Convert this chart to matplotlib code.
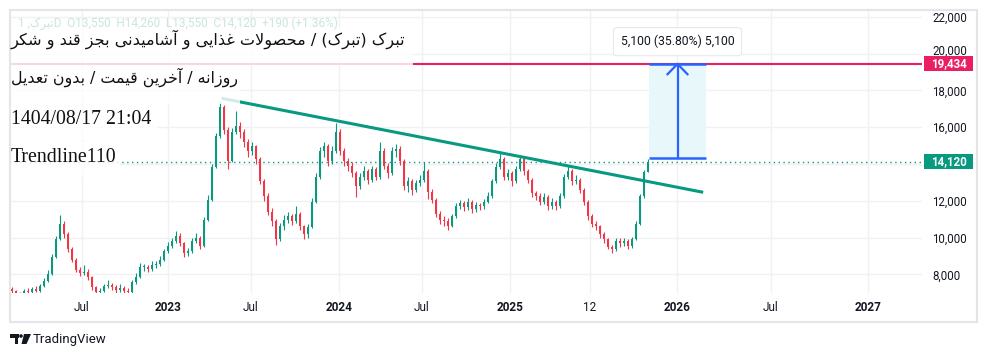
import numpy as np
import matplotlib
matplotlib.use('Agg')
import matplotlib.pyplot as plt
import matplotlib.transforms as mtransforms
from matplotlib.patches import Rectangle, Polygon, Circle

# ---------------- data ----------------
open0 = 7200
closes = [7080, 7000, 6950, 7100, 7050, 7200, 7100, 7350, 7650, 8000,
          8950, 9900, 10750, 10200, 9350, 8800, 8250, 8050, 8150, 7850,
          7300, 7050, 7100, 7350, 7400, 7300, 7150, 7250, 7100, 7050,
          7600, 7850, 8400, 8400, 8300, 8500, 8550, 8800, 9250, 9550,
          9800, 10100, 9700, 9150, 9250, 9800, 10000, 9550, 10950, 12050,
          13850, 15500, 17100, 15850, 14150, 15750, 16050, 15750, 15200, 14700,
          14950, 14250, 13050, 12250, 11400, 10900, 9900, 10600, 10950, 11150,
          10900, 11300, 10600, 10200, 10550, 11950, 13300, 14700, 14950, 14150,
          14700, 15750, 14700, 14150, 13900, 13500, 12800, 13300, 13600, 13150,
          13700, 13300, 14700, 13900, 13500, 14700, 14800, 14150, 12800, 13050,
          12600, 12950, 13150, 13600, 12500, 12050, 11300, 10950, 10900, 10650,
          11150, 11700, 11850, 11650, 11950, 11550, 11750, 11700, 11950, 12250,
          13050, 13850, 14250, 13300, 13500, 13050, 13700, 14250, 13600, 13150,
          12400, 12250, 11950, 12200, 11700, 11950, 11700, 12250, 13300, 13600,
          13050, 13150, 12600, 11950, 11150, 10750, 10600, 10200, 9900, 9500,
          9350, 9800, 9700, 9800, 9550, 9900, 10750, 12250, 13550, 14120]
highs = [7300, 7150, 7050, 7200, 7250, 7300, 7350, 7450, 7800, 8250,
         9100, 10100, 11250, 10900, 10300, 9500, 8900, 8400, 8500, 8300,
         7900, 7350, 7250, 7500, 7700, 7550, 7400, 7450, 7350, 7250,
         7700, 8050, 8600, 8550, 8500, 8700, 8750, 9000, 9400, 9750,
         10000, 10350, 10250, 9750, 9450, 9950, 10250, 10100, 11100, 12300,
         14000, 15700, 17400, 17200, 16000, 15950, 16900, 16300, 15900, 15350,
         15200, 15050, 14350, 13200, 12400, 11600, 11000, 10800, 11200, 11400,
         11300, 11700, 11400, 10700, 10750, 12150, 13500, 14900, 15200, 15100,
         14950, 16250, 15900, 14850, 14300, 14100, 13600, 13500, 13900, 13750,
         13900, 13850, 15200, 14850, 14050, 14900, 15100, 14950, 14250, 13300,
         13200, 13150, 13400, 14100, 13700, 12650, 12150, 11450, 11150, 11050,
         11300, 11900, 12050, 12000, 12150, 12050, 11950, 11900, 12100, 12450,
         13200, 14050, 14650, 14350, 13750, 13600, 13900, 14500, 14350, 13750,
         13250, 12550, 12400, 12400, 12300, 12150, 12050, 12400, 13450, 13950,
         13700, 13400, 13250, 12700, 12050, 11300, 10900, 10700, 10300, 10000,
         9600, 9950, 9950, 10000, 9900, 10050, 10900, 12350, 13650, 14260]
lows = [6980, 6900, 6850, 6900, 6950, 7000, 7050, 7050, 7300, 7600,
        7950, 8900, 9850, 10000, 9200, 8650, 8100, 7900, 7950, 7700,
        7150, 6900, 6950, 7050, 7250, 7150, 7000, 7050, 6950, 6900,
        7000, 7500, 7800, 8200, 8150, 8200, 8350, 8450, 8700, 9150,
        9450, 9700, 9550, 8950, 9000, 9150, 9700, 9400, 9500, 10900,
        12000, 13800, 15400, 15600, 13700, 14100, 15600, 15400, 14900, 14400,
        14500, 14000, 12900, 12000, 11200, 10600, 9600, 9800, 10400, 10800,
        10700, 10800, 10400, 9900, 10000, 10500, 11900, 13200, 14400, 13900,
        14000, 14600, 14500, 13900, 13600, 13300, 12200, 12650, 13100, 12900,
        13000, 13100, 13200, 13700, 13250, 13400, 14400, 13950, 12600, 12500,
        12300, 12450, 12800, 13000, 12100, 11850, 11100, 10750, 10650, 10400,
        10550, 11050, 11550, 11450, 11500, 11350, 11400, 11500, 11550, 11850,
        12150, 12950, 13700, 13100, 13150, 12800, 12950, 13600, 13400, 12950,
        12200, 12050, 11750, 11800, 11500, 11550, 11500, 11600, 12150, 13200,
        12850, 12900, 12400, 11750, 10950, 10550, 10400, 10000, 9700, 9350,
        9150, 9250, 9500, 9550, 9400, 9450, 9850, 10700, 12150, 13550]

price_ticks = [8000, 10000, 12000, 14000, 16000, 18000, 20000, 22000]
price_tick_labels = ['8,000', '10,000', '12,000', '', '16,000', '18,000', '20,000', '22,000']
time_tick_pos = [17.43, 38.93, 59.68, 81.83, 102.43, 124.5, 144.5, 166.18, 189.68, 213.93]
time_tick_labels = ['Jul', '2023', 'Jul', '2024', 'Jul', '2025', '12', '2026', 'Jul', '2027']

last_price = 14120
target_price = 19434
trend_x = [52.4, 172.8]
trend_y = [17565, 12457]
measure_x = [159.25, 173.5]
measure_y = [14334, 19434]
measure_label = '5,100 (35.80%) 5,100'

title_line = 'تبرک (تبرک) / محصولات غذایی و آشامیدنی بجز قند و شکر'
sub_line = 'روزانه / آخرین قیمت / بدون تعدیل'
date_line = '1404/08/17 21:04'
name_line = 'Trendline110'
ohlc_line = 'O13,550  H14,260  L13,550  C14,120  +190 (+1.36%)'
symbol = 'تبرک'

GREEN = '#089981'
RED = '#f23645'
PINK = '#e91e63'
BLUE = '#2962ff'
TXT = '#131722'

# ---------------- minimal Arabic/Persian shaping for display ----------------
FORMS = {
    '\u0622': ('\uFE81', '\uFE82', None, None),
    '\u0627': ('\uFE8D', '\uFE8E', None, None),
    '\u0628': ('\uFE8F', '\uFE90', '\uFE91', '\uFE92'),
    '\u062A': ('\uFE95', '\uFE96', '\uFE97', '\uFE98'),
    '\u062C': ('\uFE9D', '\uFE9E', '\uFE9F', '\uFEA0'),
    '\u062D': ('\uFEA1', '\uFEA2', '\uFEA3', '\uFEA4'),
    '\u062E': ('\uFEA5', '\uFEA6', '\uFEA7', '\uFEA8'),
    '\u062F': ('\uFEA9', '\uFEAA', None, None),
    '\u0630': ('\uFEAB', '\uFEAC', None, None),
    '\u0631': ('\uFEAD', '\uFEAE', None, None),
    '\u0632': ('\uFEAF', '\uFEB0', None, None),
    '\u0634': ('\uFEB5', '\uFEB6', '\uFEB7', '\uFEB8'),
    '\u0635': ('\uFEB9', '\uFEBA', '\uFEBB', '\uFEBC'),
    '\u0639': ('\uFEC9', '\uFECA', '\uFECB', '\uFECC'),
    '\u063A': ('\uFECD', '\uFECE', '\uFECF', '\uFED0'),
    '\u0642': ('\uFED5', '\uFED6', '\uFED7', '\uFED8'),
    '\u0644': ('\uFEDD', '\uFEDE', '\uFEDF', '\uFEE0'),
    '\u0645': ('\uFEE1', '\uFEE2', '\uFEE3', '\uFEE4'),
    '\u0646': ('\uFEE5', '\uFEE6', '\uFEE7', '\uFEE8'),
    '\u0647': ('\uFEE9', '\uFEEA', '\uFEEB', '\uFEEC'),
    '\u0648': ('\uFEED', '\uFEEE', None, None),
    '\u06A9': ('\uFB8E', '\uFB8F', '\uFB90', '\uFB91'),
    '\u06CC': ('\uFBFC', '\uFBFD', '\uFBFE', '\uFBFF'),
}
LAMALEF = {'\u0627': ('\uFEFB', '\uFEFC'), '\u0622': ('\uFEF5', '\uFEF6')}


def shape_rtl(s):
    ch = list(s)
    n = len(ch)
    out = []
    i = 0
    while i < n:
        c = ch[i]
        if c not in FORMS:
            out.append(c)
            i += 1
            continue
        prev = ch[i - 1] if i > 0 else None
        jp = prev in FORMS and FORMS[prev][2] is not None
        if c == '\u0644' and i + 1 < n and ch[i + 1] in LAMALEF:
            lig = LAMALEF[ch[i + 1]]
            out.append(lig[1] if jp else lig[0])
            i += 2
            continue
        nxt = ch[i + 1] if i + 1 < n else None
        jn = FORMS[c][2] is not None and nxt in FORMS
        f = FORMS[c]
        out.append(f[3] if (jp and jn) else f[1] if jp else f[2] if jn else f[0])
        i += 1
    vis = ''.join(reversed(out))
    return vis.translate(str.maketrans('()', ')('))


# ---------------- figure ----------------
fig = plt.figure(figsize=(9.88, 3.57), dpi=100)
fig.patch.set_facecolor('white')
ax = fig.add_axes([10 / 988, 64 / 357, 912 / 988, 283 / 357])
ax.set_xlim(-0.5, 227.5)
ax.set_ylim(6984, 22365)
for s in ax.spines.values():
    s.set_visible(False)

ax.set_yticks(price_ticks)
ax.set_yticklabels(price_tick_labels)
ax.yaxis.tick_right()
ax.tick_params(axis='y', length=0, pad=7.2, labelsize=8.3, labelcolor=TXT)
ax.set_xticks(time_tick_pos)
ax.set_xticklabels(time_tick_labels)
ax.tick_params(axis='x', length=0, pad=6, labelsize=8.5, labelcolor=TXT)
for lab in ax.get_yticklabels() + ax.get_xticklabels():
    lab.set_fontfamily('Roboto')
for lab in ax.get_yticklabels():
    if lab.get_text() == '20,000':
        lab.set_transform(lab.get_transform() + mtransforms.ScaledTranslation(0, 2.5 / 72, fig.dpi_scale_trans))
for lab in ax.get_xticklabels():
    if lab.get_text().isdigit() and len(lab.get_text()) == 4:
        lab.set_fontweight('bold')
ax.grid(True, color='#f0f1f5', lw=1)
ax.set_axisbelow(True)

# candles
o = np.array([open0] + closes[:-1], dtype=float)
c = np.array(closes, dtype=float)
h = np.array(highs, dtype=float)
l = np.array(lows, dtype=float)
idx = np.arange(len(c))
cols = np.where(c >= o, GREEN, RED)
ax.vlines(idx, l, h, colors=cols, lw=0.8, zorder=3)
ax.bar(idx, np.maximum(np.abs(c - o), 40), bottom=np.minimum(o, c), width=0.6,
       color=cols, lw=0, zorder=3)

# lines
ax.axhline(last_price, color=GREEN, lw=1, linestyle=(0, (1, 2.5)), zorder=2)
ax.axhline(target_price, color=PINK, lw=1.5, zorder=4)
ax.plot(trend_x, trend_y, color=GREEN, lw=2.2, zorder=5, solid_capstyle='butt')

# measurement tool
ax.add_patch(Rectangle((measure_x[0], measure_y[0]), measure_x[1] - measure_x[0],
                       measure_y[1] - measure_y[0], facecolor='#e8f7fa', edgecolor='none', zorder=2))
ax.hlines(measure_y, measure_x[0], measure_x[1], colors=BLUE, lw=1.8, zorder=6)
mx = (measure_x[0] + measure_x[1]) / 2
ax.plot([mx, mx], measure_y, color=BLUE, lw=1.6, zorder=6)
ax.plot([mx - 2.5, mx, mx + 2.5], [measure_y[1] - 560, measure_y[1], measure_y[1] - 560],
        color=BLUE, lw=1.6, zorder=6)
ax.text(mx, 20640, measure_label, ha='center', va='center', fontsize=8.8, color=TXT,
        family='Roboto', zorder=7,
        bbox=dict(boxstyle='round,pad=0.6,rounding_size=0.3', facecolor='white',
                  edgecolor='#dfe1e6', lw=0.6))

# price labels on the scale
trans = mtransforms.blended_transform_factory(ax.transAxes, ax.transData)
for val, col in [(target_price, PINK), (last_price, GREEN)]:
    ax.add_patch(Rectangle((1.0022, val - 410), 0.0537, 820, transform=trans,
                           facecolor=col, edgecolor='none', clip_on=False, zorder=8))
    ax.text(1.029, val, f'{val:,}', transform=trans, ha='center', va='center',
            color='white', fontsize=8.3, fontweight='bold', family='Roboto',
            clip_on=False, zorder=9)

# overlay (pixel coordinates)
ov = fig.add_axes([0, 0, 1, 1], zorder=10)
ov.set_xlim(0, 988)
ov.set_ylim(357, 0)
ov.axis('off')
ov.patch.set_alpha(0)
ov.add_patch(Rectangle((10, 10), 967, 312, fill=False, edgecolor='#e3e5ea', lw=1.5))

for (x0, y0, w, hh) in [(11, 27, 402, 39), (11, 66, 229, 38), (11, 105, 147, 35), (11, 142, 109, 35)]:
    ov.add_patch(Rectangle((x0, y0), w, hh, facecolor='white', alpha=0.82, edgecolor='none'))

ov.text(18, 23, '1 ,' + shape_rtl(symbol) + 'D  ' + ohlc_line, ha='left', va='center',
        fontsize=8.5, color='#c9e6df', family=['Roboto', 'DejaVu Sans'])
ov.text(11, 39, shape_rtl(title_line), ha='left', va='center', fontsize=11.6,
        color='#111111', family=['DejaVu Sans'])
ov.text(11, 77, shape_rtl(sub_line), ha='left', va='center', fontsize=11.4,
        color='#111111', family=['DejaVu Sans'])
ov.text(11, 120, date_line, ha='left', va='center', fontsize=14.3,
        color='#111111', family=['Liberation Serif'])
ov.text(11, 157, name_line, ha='left', va='center', fontsize=14.3,
        color='#111111', family=['Liberation Serif'])

# TradingView logo
ov.add_patch(Rectangle((10, 334), 8.5, 3.5, facecolor=TXT, edgecolor='none'))
ov.add_patch(Rectangle((14.5, 334), 3.8, 10, facecolor=TXT, edgecolor='none'))
ov.add_patch(Circle((21, 336), 1.8, facecolor=TXT, edgecolor='none'))
ov.add_patch(Polygon([(24, 334), (31, 334), (26.5, 344), (21.5, 344)], closed=True,
                     facecolor=TXT, edgecolor='none'))
ov.text(33, 339.5, 'TradingView', ha='left', va='center', fontsize=9.5, color=TXT,
        family='Roboto')

fig.savefig('out.png', dpi=100, facecolor='white')
